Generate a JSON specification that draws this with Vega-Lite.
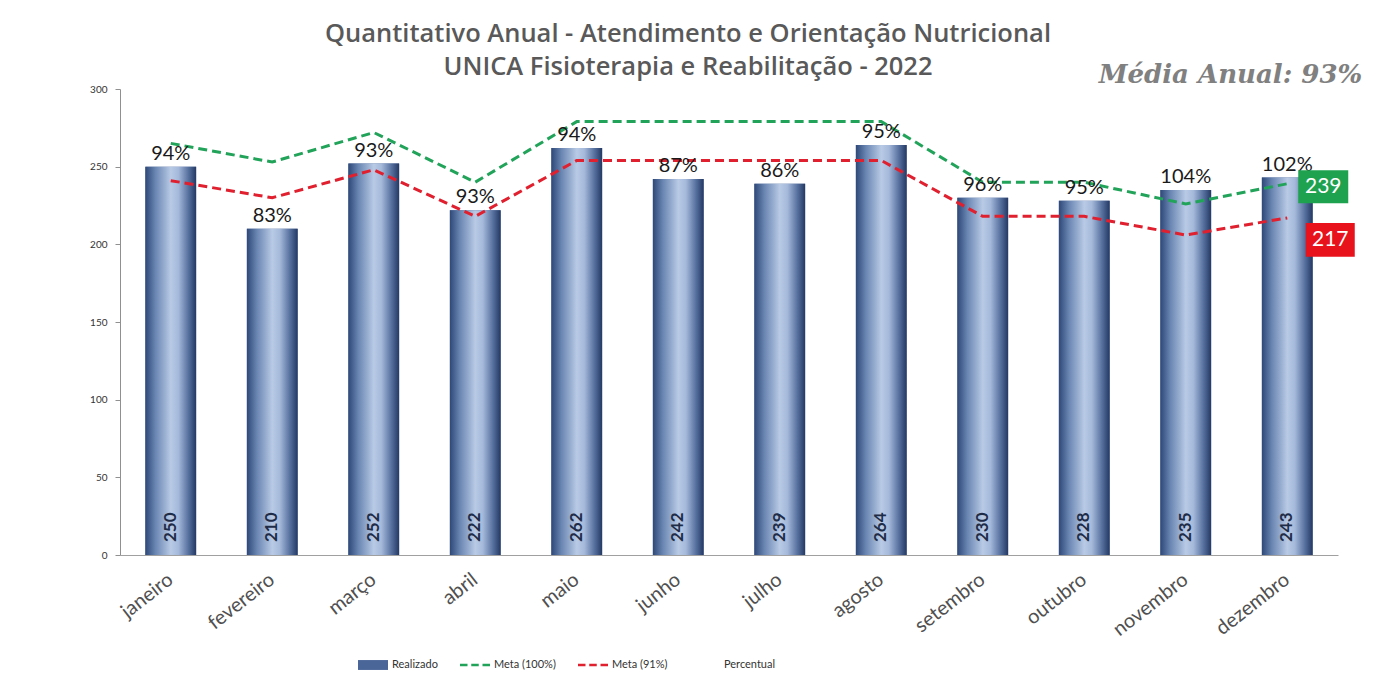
{
  "$schema": "https://vega.github.io/schema/vega-lite/v6.json",
  "width": 1218,
  "height": 466,
  "autosize": {"type": "none"},
  "padding": {"left": 120, "top": 89, "right": 43, "bottom": 125},
  "background": "white",
  "config": {"view": {"stroke": null}, "font": "Lato"},
  "title": {
    "text": ["Quantitativo Anual - Atendimento e Orientação Nutricional", "UNICA Fisioterapia e Reabilitação  - 2022"],
    "font": "Open Sans",
    "fontSize": 25.5,
    "fontWeight": 600,
    "color": "#595959",
    "lineHeight": 33,
    "anchor": "middle",
    "dx": -41,
    "offset": -18
  },
  "data": {
    "values": [
      {"mes": "janeiro", "realizado": 250, "meta100": 265, "meta91": 241, "pct": "94%"},
      {"mes": "fevereiro", "realizado": 210, "meta100": 253, "meta91": 230, "pct": "83%"},
      {"mes": "março", "realizado": 252, "meta100": 272, "meta91": 248, "pct": "93%"},
      {"mes": "abril", "realizado": 222, "meta100": 240, "meta91": 218, "pct": "93%"},
      {"mes": "maio", "realizado": 262, "meta100": 279, "meta91": 254, "pct": "94%"},
      {"mes": "junho", "realizado": 242, "meta100": 279, "meta91": 254, "pct": "87%"},
      {"mes": "julho", "realizado": 239, "meta100": 279, "meta91": 254, "pct": "86%"},
      {"mes": "agosto", "realizado": 264, "meta100": 279, "meta91": 254, "pct": "95%"},
      {"mes": "setembro", "realizado": 230, "meta100": 240, "meta91": 218, "pct": "96%"},
      {"mes": "outubro", "realizado": 228, "meta100": 240, "meta91": 218, "pct": "95%"},
      {"mes": "novembro", "realizado": 235, "meta100": 226, "meta91": 206, "pct": "104%"},
      {"mes": "dezembro", "realizado": 243, "meta100": 239, "meta91": 217, "pct": "102%"}
    ]
  },
  "encoding": {
    "x": {
      "field": "mes",
      "type": "nominal",
      "sort": null,
      "scale": {"paddingInner": 0.5, "paddingOuter": 0.25},
      "axis": {
        "title": null,
        "labelAngle": -38,
        "labelAlign": "right",
        "labelBaseline": "middle",
        "labelFontSize": 20,
        "labelFont": "Lato",
        "labelColor": "#505050",
        "labelPadding": 22,
        "ticks": false,
        "domainColor": "#a0a0a0",
        "domainWidth": 1
      }
    }
  },
  "layer": [
    {
      "mark": {"type": "bar"},
      "encoding": {
        "y": {
          "field": "realizado",
          "type": "quantitative",
          "scale": {"domain": [0, 300], "nice": false},
          "axis": {
            "title": null,
            "values": [0, 50, 100, 150, 200, 250, 300],
            "grid": false,
            "labelFontSize": 10,
            "labelColor": "#333333",
            "labelPadding": 8,
            "tickSize": 5,
            "tickColor": "#909090",
            "domainColor": "#909090"
          }
        },
        "color": {
          "datum": "Realizado",
          "type": "nominal",
          "scale": {
            "domain": ["Realizado", "Meta (100%)", "Meta (91%)", "Percentual"],
            "range": ["#4a6699", "#22a35a", "#e0202e", "transparent"]
          },
          "legend": {
            "orient": "none",
            "legendX": 238,
            "legendY": 561,
            "direction": "horizontal",
            "title": null,
            "labelFontSize": 11,
            "labelFont": "Lato",
            "labelColor": "#333333",
            "symbolSize": 900,
            "columnPadding": 22,
            "labelOffset": 4,
            "encode": {
              "symbols": {
                "update": {
                  "shape": {"signal": "datum.value === 'Realizado' ? 'M-1,-0.33H1V0.33H-1Z' : 'M-1,-0.09H-0.5V0.09H-1Z M-0.25,-0.09H0.25V0.09H-0.25Z M0.5,-0.09H1V0.09H0.5Z'"},
                  "fill": {"signal": "scale('color', datum.value)"},
                  "stroke": {"value": "transparent"},
                  "strokeWidth": {"value": 0},
                  "opacity": {"value": 1}
                }
              }
            }
          }
        }
      }
    },
    {
      "mark": {
        "type": "bar",
        "fill": {
          "gradient": "linear",
          "x1": 0, "x2": 1, "y1": 0, "y2": 0,
          "stops": [
            {"offset": 0, "color": "#2e4878"},
            {"offset": 0.2, "color": "#6a86b2"},
            {"offset": 0.5, "color": "#b8cae5"},
            {"offset": 0.65, "color": "#a5b9da"},
            {"offset": 0.85, "color": "#56709e"},
            {"offset": 1, "color": "#243964"}
          ]
        }
      },
      "encoding": {"y": {"field": "realizado", "type": "quantitative"}}
    },
    {
      "mark": {"type": "line", "strokeDash": [9, 5], "strokeWidth": 3},
      "encoding": {"y": {"field": "meta100", "type": "quantitative"}, "color": {"datum": "Meta (100%)", "type": "nominal"}}
    },
    {
      "mark": {"type": "line", "strokeDash": [9, 5], "strokeWidth": 3},
      "encoding": {"y": {"field": "meta91", "type": "quantitative"}, "color": {"datum": "Meta (91%)", "type": "nominal"}}
    },
    {
      "mark": {"type": "text", "fontSize": 20, "font": "Lato", "color": "#1a1a1a", "baseline": "alphabetic", "dy": -7},
      "encoding": {"y": {"field": "realizado", "type": "quantitative"}, "text": {"field": "pct"}}
    },
    {
      "mark": {"type": "text", "fontSize": 17, "font": "Lato", "fontWeight": "bold", "color": "#1f2c48", "angle": 270, "align": "left", "baseline": "middle", "dx": 13},
      "encoding": {"y": {"datum": 0, "type": "quantitative"}, "text": {"field": "realizado"}}
    },
    {
      "transform": [{"filter": "datum.mes === 'dezembro'"}],
      "mark": {"type": "point", "filled": true, "opacity": 1, "color": "#1fa24f", "shape": "M-1,-0.66H1V0.66H-1Z", "size": 2500, "xOffset": 36, "yOffset": 3},
      "encoding": {"y": {"field": "meta100", "type": "quantitative"}}
    },
    {
      "transform": [{"filter": "datum.mes === 'dezembro'"}],
      "mark": {"type": "text", "fontSize": 21, "font": "Lato", "color": "white", "baseline": "middle", "xOffset": 36, "yOffset": 3},
      "encoding": {"y": {"field": "meta100", "type": "quantitative"}, "text": {"field": "meta100"}}
    },
    {
      "transform": [{"filter": "datum.mes === 'dezembro'"}],
      "mark": {"type": "point", "filled": true, "opacity": 1, "color": "#e8121c", "shape": "M-1,-0.69H1V0.69H-1Z", "size": 2401, "xOffset": 43, "yOffset": 22},
      "encoding": {"y": {"field": "meta91", "type": "quantitative"}}
    },
    {
      "transform": [{"filter": "datum.mes === 'dezembro'"}],
      "mark": {"type": "text", "fontSize": 21, "font": "Lato", "color": "white", "baseline": "middle", "xOffset": 43, "yOffset": 22},
      "encoding": {"y": {"field": "meta91", "type": "quantitative"}, "text": {"field": "meta91"}}
    },
    {
      "data": {"values": [{"mes": "dezembro", "topo": 300, "rotulo": "Média Anual: 93%"}]},
      "mark": {"type": "text", "font": "DejaVu Serif", "fontSize": 26, "fontWeight": "bold", "fontStyle": "italic", "color": "#808080", "align": "right", "baseline": "alphabetic", "dx": 75, "dy": -6},
      "encoding": {"x": {"field": "mes", "type": "nominal", "sort": null}, "y": {"field": "topo", "type": "quantitative"}, "text": {"field": "rotulo"}}
    }
  ]
}
